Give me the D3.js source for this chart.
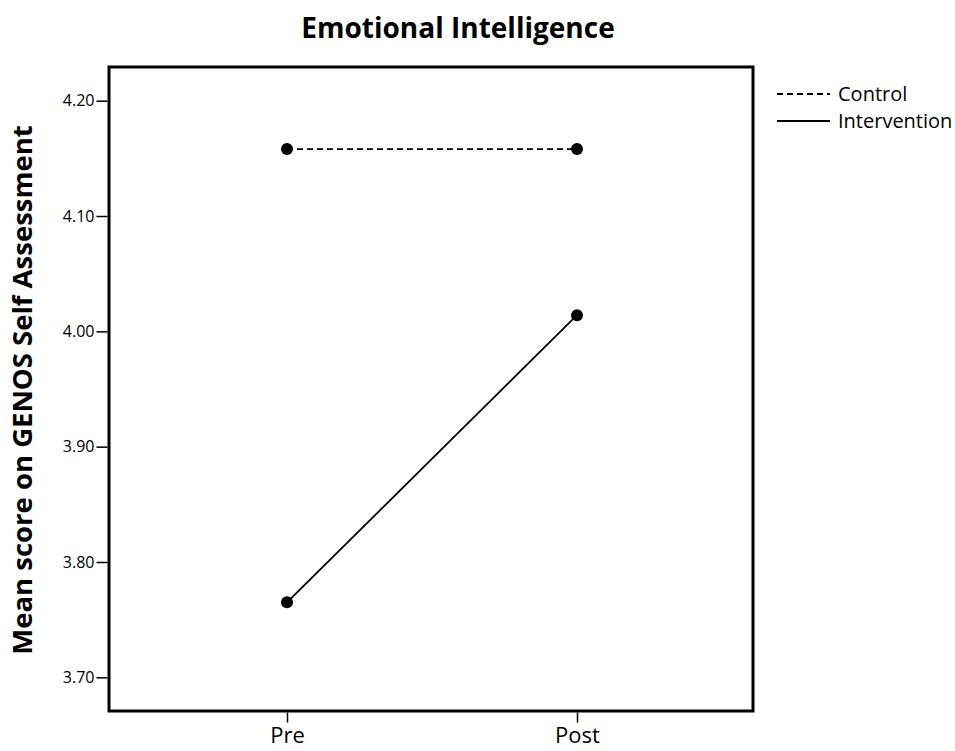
<!DOCTYPE html>
<html><head><meta charset="utf-8">
<script src="https://cdn.jsdelivr.net/npm/d3@7"></script>
<style>body{margin:0;background:#fff;} text{font-family:"Open Sans","Noto Sans",sans-serif;fill:#000;}</style>
</head><body><svg id="c" width="955" height="751"></svg>
<script>
const categories = ["Pre", "Post"];
const controlValues = [4.158, 4.158];
const interventionValues = [3.765, 4.014];
const yTicks = [3.70, 3.80, 3.90, 4.00, 4.10, 4.20];
const seriesNames = ["Control", "Intervention"];

const svg = d3.select("#c");
const L = 109, R = 753, T = 67, B = 711;
const y = d3.scaleLinear().domain([3.6708, 4.2292]).range([B, T]);
const x = d3.scalePoint().domain(categories).range([287, 577]);

svg.append("rect").attr("x", L).attr("y", T).attr("width", R - L).attr("height", B - T)
  .attr("fill", "none").attr("stroke", "#000").attr("stroke-width", 3);

const yAxis = svg.append("g").attr("transform", `translate(${L - 1.5},0)`)
  .call(d3.axisLeft(y).tickValues(yTicks).tickFormat(d3.format(".2f")).tickSize(11).tickPadding(2));
yAxis.select(".domain").remove();
yAxis.selectAll("line").attr("stroke-width", 1.5);
yAxis.selectAll("text").style("font-size", "16px").attr("font-family", "'Open Sans',sans-serif");

const xAxis = svg.append("g").attr("transform", `translate(0,${B + 1.5})`)
  .call(d3.axisBottom(x).tickSize(10).tickPadding(5));
xAxis.select(".domain").remove();
xAxis.selectAll("line").attr("stroke-width", 1.5);
xAxis.selectAll("text").style("font-size", "22px").attr("font-family", "'Open Sans',sans-serif");

const series = [
  {name: seriesNames[0], values: controlValues, dash: "6,4"},
  {name: seriesNames[1], values: interventionValues, dash: null}
];
const line = d3.line().x((d, i) => x(categories[i])).y(d => y(d));
series.forEach(s => {
  svg.append("path").datum(s.values).attr("d", line).attr("fill", "none")
    .attr("stroke", "#000").attr("stroke-width", 1.8).attr("stroke-dasharray", s.dash);
  svg.selectAll(null).data(s.values).enter().append("circle")
    .attr("cx", (d, i) => x(categories[i])).attr("cy", d => y(d)).attr("r", 6).attr("fill", "#000");
});

svg.append("text").attr("x", 458).attr("y", 38).attr("text-anchor", "middle")
  .style("font-size", "28px").style("font-weight", "bold").text("Emotional Intelligence");

svg.append("text").attr("transform", "translate(32,390) rotate(-90)").attr("text-anchor", "middle")
  .style("font-size", "27.5px").style("font-weight", "bold").text("Mean score on GENOS Self Assessment");

series.forEach((s, i) => {
  const ly = 94 + i * 27;
  svg.append("line").attr("x1", 777).attr("x2", 830).attr("y1", ly).attr("y2", ly)
    .attr("stroke", "#000").attr("stroke-width", 1.8).attr("stroke-dasharray", s.dash);
  svg.append("text").attr("x", 838).attr("y", ly + 7).style("font-size", "20px").text(s.name);
});
</script></body></html>
